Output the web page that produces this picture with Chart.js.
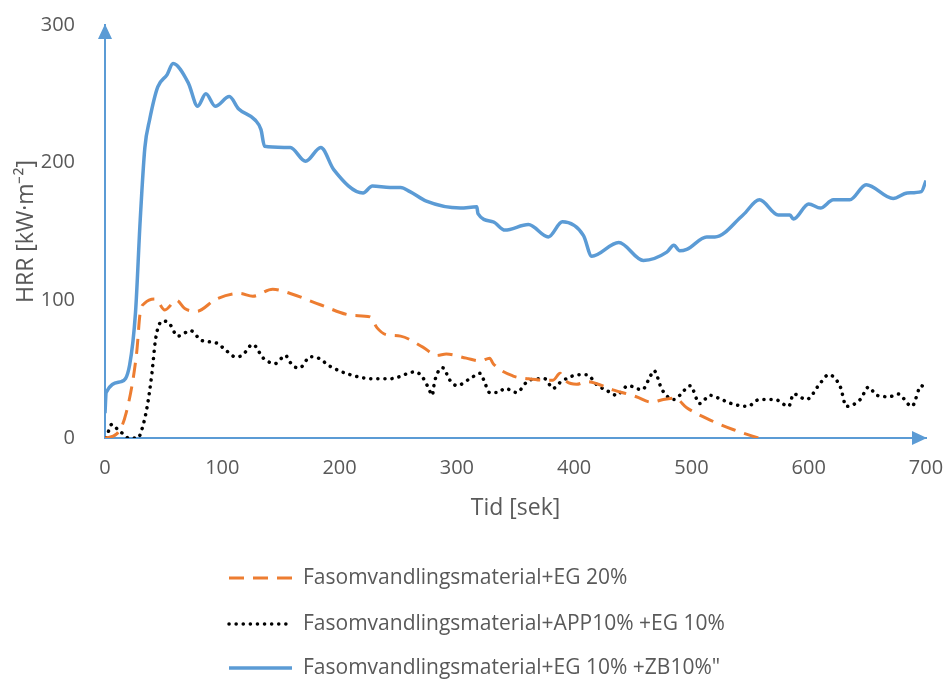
<!DOCTYPE html>
<html lang="sv">
<head>
<meta charset="UTF-8">
<title>HRR</title>
<script src="https://cdn.jsdelivr.net/npm/chart.js"></script>
<style>
  html, body { margin: 0; padding: 0; background: #fff; }
  #wrap { width: 946px; height: 679px; }
</style>
</head>
<body>
<div id="wrap"><canvas id="hrrChart" width="946" height="679"></canvas></div>
<script>
// Time [s] and heat release rate [kW/m2] for each sample
const timeEG20 = [0,10,18,27,30,34,43,51,61,68,78,95,115,126,143,158,183,212,226,232,
  240,252,271,283,291,308,320,328,331,348,361,374,382,388,392,402,411,433,453,466,
  476,486,496,516,536,557];
const hrrEG20 = [0,3,18,62,91,98,101,93,100,94,92,101,105,103,108,105,97,89,88,80,
  75,74,66,60,61,58,56,58,54,45,43,42,42,47,42,39,41,35,30,26,
  28,29,22,13,6,0];

const timeAPP = [1,6,11,17,20,28,31,36,40,43,46,50,55,62,73,82,95,104,111,117,
  126,135,145,154,157,161,166,175,182,192,209,229,243,249,264,270,276,279,281,288,
  294,300,311,320,323,328,335,341,351,360,368,375,382,389,405,411,419,431,436,446,
  458,465,468,475,485,490,499,507,516,523,534,548,558,571,583,587,598,610,617,627,
  632,644,651,658,669,676,688,696,700];
const hrrAPP = [0,10,6,2,0,0,5,23,47,71,82,85,83,74,78,71,69,63,59,60,
  68,58,54,60,56,52,51,59,58,52,46,43,43,44,48,45,36,31,41,51,
  42,38,43,47,42,33,33,36,33,41,43,43,36,41,46,46,39,33,31,38,
  35,45,49,35,28,31,38,25,31,29,25,23,28,28,23,32,28,40,46,37,
  23,28,37,31,30,32,23,38,35];

const timeZB = [0,1,14,21,26,30,34,38,45,53,58,71,79,86,94,106,114,128,133,136,
  158,171,184,195,220,228,243,252,260,274,303,317,318,331,341,361,378,390,408,415,
  438,459,479,485,490,496,513,520,544,558,574,584,587,600,610,621,635,649,672,684,
  696,700];
const hrrZB = [18,33,41,53,91,158,211,231,255,264,272,258,241,250,241,248,239,231,224,212,
  211,201,211,195,178,183,182,182,179,172,167,168,163,157,151,155,146,157,147,132,
  142,129,135,140,136,137,146,146,162,173,162,162,159,170,167,173,173,184,174,178,
  179,187];

const seriesNames = [
  'Fasomvandlingsmaterial+EG 20%',
  'Fasomvandlingsmaterial+APP10% +EG 10%',
  'Fasomvandlingsmaterial+EG 10% +ZB10%"'
];
const xTicks = [0, 100, 200, 300, 400, 500, 600, 700];
const yTicks = [0, 100, 200, 300];

const axisBlue = '#5b9bd5';
const textGrey = '#595959';
const fontFamily = "'Open Sans', sans-serif";

function toPoints(xs, ys) {
  return xs.map((x, i) => ({ x: x, y: ys[i] }));
}

// arrow heads on both axes plus the stacked legend under the plot
const axisArrowsLegend = {
  id: 'axisArrowsLegend',
  afterDraw(chart) {
    const { ctx, chartArea: a } = chart;
    ctx.save();
    ctx.fillStyle = axisBlue;
    ctx.beginPath();
    ctx.moveTo(a.right + 1, a.bottom);
    ctx.lineTo(a.right - 14, a.bottom - 7);
    ctx.lineTo(a.right - 14, a.bottom + 7);
    ctx.closePath();
    ctx.fill();
    ctx.beginPath();
    ctx.moveTo(a.left, a.top - 1);
    ctx.lineTo(a.left - 7, a.top + 14);
    ctx.lineTo(a.left + 7, a.top + 14);
    ctx.closePath();
    ctx.fill();

    const rows = [578, 624, 668];
    ctx.font = '21px ' + fontFamily;
    ctx.textBaseline = 'middle';
    chart.data.datasets.forEach((ds, i) => {
      const y = rows[i];
      ctx.save();
      ctx.strokeStyle = ds.borderColor;
      ctx.lineWidth = ds.borderWidth;
      ctx.lineCap = ds.borderCapStyle || 'butt';
      ctx.setLineDash(ds.borderDash || []);
      ctx.beginPath();
      ctx.moveTo(229, y);
      ctx.lineTo(292, y);
      ctx.stroke();
      ctx.restore();
      ctx.fillStyle = textGrey;
      ctx.fillText(ds.label, 303, y);
    });
    ctx.restore();
  }
};

new Chart(document.getElementById('hrrChart'), {
  type: 'line',
  data: {
    datasets: [{
      label: seriesNames[0],
      data: toPoints(timeEG20, hrrEG20),
      borderColor: '#ed7d31',
      borderWidth: 3,
      borderDash: [15, 9]
    }, {
      label: seriesNames[1],
      data: toPoints(timeAPP, hrrAPP),
      borderColor: '#000000',
      borderWidth: 3.5,
      borderCapStyle: 'round',
      borderDash: [0.1, 7]
    }, {
      label: seriesNames[2],
      data: toPoints(timeZB, hrrZB),
      borderColor: axisBlue,
      borderWidth: 3.5
    }]
  },
  options: {
    responsive: false,
    animation: false,
    layout: { padding: { left: 0, right: 20, top: 25, bottom: 153 } },
    elements: {
      point: { radius: 0 },
      line: { cubicInterpolationMode: 'monotone', fill: false }
    },
    plugins: {
      legend: { display: false },
      tooltip: { enabled: false }
    },
    scales: {
      x: {
        type: 'linear',
        min: 0,
        max: 700,
        afterBuildTicks: s => { s.ticks = xTicks.map(v => ({ value: v })); },
        afterFit: s => { s.height = 88; s.paddingLeft = 0; s.paddingRight = 0; },
        grid: { display: false },
        border: { color: axisBlue, width: 2 },
        ticks: { color: textGrey, font: { family: fontFamily, size: 20 }, padding: 10, maxRotation: 0 },
        title: { display: true, text: 'Tid [sek]', color: textGrey, font: { family: fontFamily, size: 23 }, padding: { top: 4, bottom: 4 } }
      },
      y: {
        min: 0,
        max: 300,
        afterBuildTicks: s => { s.ticks = yTicks.map(v => ({ value: v })); },
        afterFit: s => { s.width = 105; s.paddingTop = 0; s.paddingBottom = 0; },
        grid: { display: false },
        border: { color: axisBlue, width: 2 },
        ticks: { color: textGrey, font: { family: fontFamily, size: 20 }, padding: 22 },
        title: { display: true, text: 'HRR [kW·m⁻²]', color: textGrey, font: { family: fontFamily, size: 23 }, padding: { top: 13, bottom: 0 } }
      }
    }
  },
  plugins: [axisArrowsLegend]
});
</script>
</body>
</html>
